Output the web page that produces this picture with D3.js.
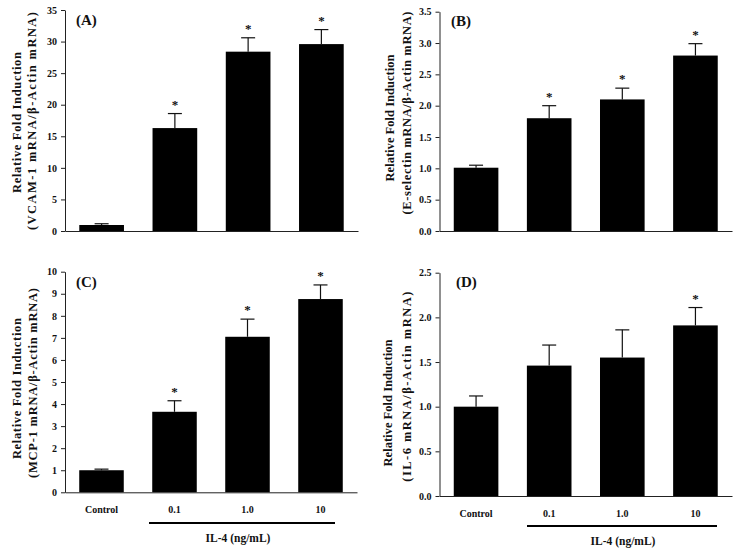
<!DOCTYPE html>
<html>
<head>
<meta charset="utf-8">
<script src="https://cdn.jsdelivr.net/npm/d3@7"></script>
<style>
  html, body { margin: 0; padding: 0; background: #fff; }
  svg text { font-family: "Liberation Serif", "Times New Roman", serif; font-weight: bold; fill: #111; }
</style>
</head>
<body>
<svg id="chart" width="739" height="555"></svg>
<script>
// ---- data ----
const categories = ["Control", "0.1", "1.0", "10"];

const vcamValues = [0.95, 16.3, 28.4, 29.6];
const vcamErrors = [0.2, 2.3, 2.2, 2.3];
const vcamSig = [false, true, true, true];
const vcamTicks = [0, 5, 10, 15, 20, 25, 30, 35];

const eselValues = [1.01, 1.8, 2.1, 2.8];
const eselErrors = [0.04, 0.2, 0.18, 0.19];
const eselSig = [false, true, true, true];
const eselTicks = [0, 0.5, 1.0, 1.5, 2.0, 2.5, 3.0, 3.5];

const mcpValues = [1.0, 3.65, 7.05, 8.76];
const mcpErrors = [0.05, 0.5, 0.8, 0.64];
const mcpSig = [false, true, true, true];
const mcpTicks = [0, 1, 2, 3, 4, 5, 6, 7, 8, 9, 10];

const il6Values = [1.0, 1.46, 1.55, 1.91];
const il6Errors = [0.12, 0.23, 0.31, 0.2];
const il6Sig = [false, false, false, true];
const il6Ticks = [0, 0.5, 1.0, 1.5, 2.0, 2.5];

const panelLabels = ["(A)", "(B)", "(C)", "(D)"];
const yLine1 = "Relative Fold Induction";
const yLine2 = ["(VCAM-1 mRNA/β-Actin mRNA)", "(E-selectin mRNA/β-Actin mRNA)",
                "(MCP-1 mRNA/β-Actin mRNA)", "(IL-6 mRNA/β-Actin mRNA)"];
const groupLabel = "IL-4 (ng/mL)";

// ---- layout ----
const panels = [
  { values: vcamValues, errors: vcamErrors, sig: vcamSig, ticks: vcamTicks, fmt: d3.format("d"),
    x0: 65, x1: 358, yTop: 10, yBot: 231, showX: false,
    lab: [76, 25], y1: { x: 21, c: 122.5, len: 141 }, y2: { x: 36, c: 121, len: 218 } },
  { values: eselValues, errors: eselErrors, sig: eselSig, ticks: eselTicks, fmt: d3.format(".1f"),
    x0: 439.5, x1: 732, yTop: 11.7, yBot: 231, showX: false,
    lab: [451, 26], y1: { x: 394, c: 118, len: 127 }, y2: { x: 411, c: 113, len: 203 } },
  { values: mcpValues, errors: mcpErrors, sig: mcpSig, ticks: mcpTicks, fmt: d3.format("d"),
    x0: 65, x1: 357, yTop: 271.7, yBot: 492.3, showX: true,
    lab: [76, 287], y1: { x: 21, c: 388.6, len: 141 }, y2: { x: 37, c: 383, len: 190 },
    under: { y: 523, l: 149, r: 335 }, group: { x: 238, y: 542 } },
  { values: il6Values, errors: il6Errors, sig: il6Sig, ticks: il6Ticks, fmt: d3.format(".1f"),
    x0: 439.5, x1: 732, yTop: 272.7, yBot: 496, showX: true,
    lab: [456, 287], y1: { x: 392, c: 403, len: 127 }, y2: { x: 411, c: 386.7, len: 190 },
    under: { y: 526, l: 527, r: 717 }, group: { x: 623, y: 545 } }
];

const svg = d3.select("#chart");

panels.forEach((p, i) => {
  const g = svg.append("g");
  const x = d3.scaleBand().domain(categories).range([p.x0, p.x1])
    .paddingInner(0.39).paddingOuter(0.195);
  const yMax = p.ticks[p.ticks.length - 1];
  const y = d3.scaleLinear().domain([0, yMax]).range([p.yBot, p.yTop]);

  const data = categories.map((c, k) => ({ c, v: p.values[k], e: p.errors[k], s: p.sig[k] }));
  const capW = 14;
  data.forEach(d => {
    const cx = x(d.c) + x.bandwidth() / 2;
    g.append("line").attr("x1", cx).attr("x2", cx)
      .attr("y1", y(d.v)).attr("y2", y(d.v + d.e))
      .attr("stroke", "#111").attr("stroke-width", 1.2);
    g.append("line").attr("x1", cx - capW / 2).attr("x2", cx + capW / 2)
      .attr("y1", y(d.v + d.e)).attr("y2", y(d.v + d.e))
      .attr("stroke", "#111").attr("stroke-width", 1.2);
    if (d.s) {
      g.append("text").attr("x", cx).attr("y", y(d.v + d.e) - 5)
        .attr("text-anchor", "middle").attr("font-size", 13).text("*");
    }
  });

  g.selectAll("rect.bar").data(data).enter().append("rect")
    .attr("class", "bar")
    .attr("x", d => x(d.c)).attr("width", x.bandwidth())
    .attr("y", d => y(d.v)).attr("height", d => y(0) - y(d.v))
    .attr("fill", "#000");

  const ya = g.append("g").attr("transform", `translate(${p.x0},0)`)
    .call(d3.axisLeft(y).tickValues(p.ticks).tickFormat(p.fmt).tickSize(4).tickSizeOuter(0).tickPadding(4));
  ya.selectAll("path, line").attr("stroke", "#222").attr("stroke-width", 1);
  ya.selectAll("text").attr("font-size", 10).attr("font-family", "Liberation Serif, serif")
    .attr("font-weight", "bold").attr("fill", "#111");

  const xa = g.append("g").attr("transform", `translate(0,${p.yBot})`)
    .call(d3.axisBottom(x).tickSize(0).tickSizeOuter(0).tickPadding(14)
      .tickFormat(p.showX ? (d => d) : () => ""));
  xa.select(".domain").attr("stroke", "#222").attr("stroke-width", 1);
  xa.selectAll("text").attr("font-size", 10).attr("font-family", "Liberation Serif, serif")
    .attr("font-weight", "bold").attr("fill", "#111");

  g.append("text").attr("x", p.lab[0]).attr("y", p.lab[1])
    .attr("font-size", 15).text(panelLabels[i]);

  g.append("text")
    .attr("transform", `translate(${p.y1.x},${p.y1.c}) rotate(-90)`)
    .attr("text-anchor", "middle").attr("font-size", 12.5)
    .attr("textLength", p.y1.len).attr("lengthAdjust", "spacing")
    .text(yLine1);
  g.append("text")
    .attr("transform", `translate(${p.y2.x},${p.y2.c}) rotate(-90)`)
    .attr("text-anchor", "middle").attr("font-size", 12.5)
    .attr("textLength", p.y2.len).attr("lengthAdjust", "spacing")
    .text(yLine2[i]);

  if (p.showX) {
    g.append("line").attr("x1", p.under.l).attr("x2", p.under.r)
      .attr("y1", p.under.y).attr("y2", p.under.y)
      .attr("stroke", "#000").attr("stroke-width", 2);
    g.append("text").attr("x", p.group.x).attr("y", p.group.y)
      .attr("text-anchor", "middle").attr("font-size", 11.5).text(groupLabel);
  }
});
</script>
</body>
</html>
